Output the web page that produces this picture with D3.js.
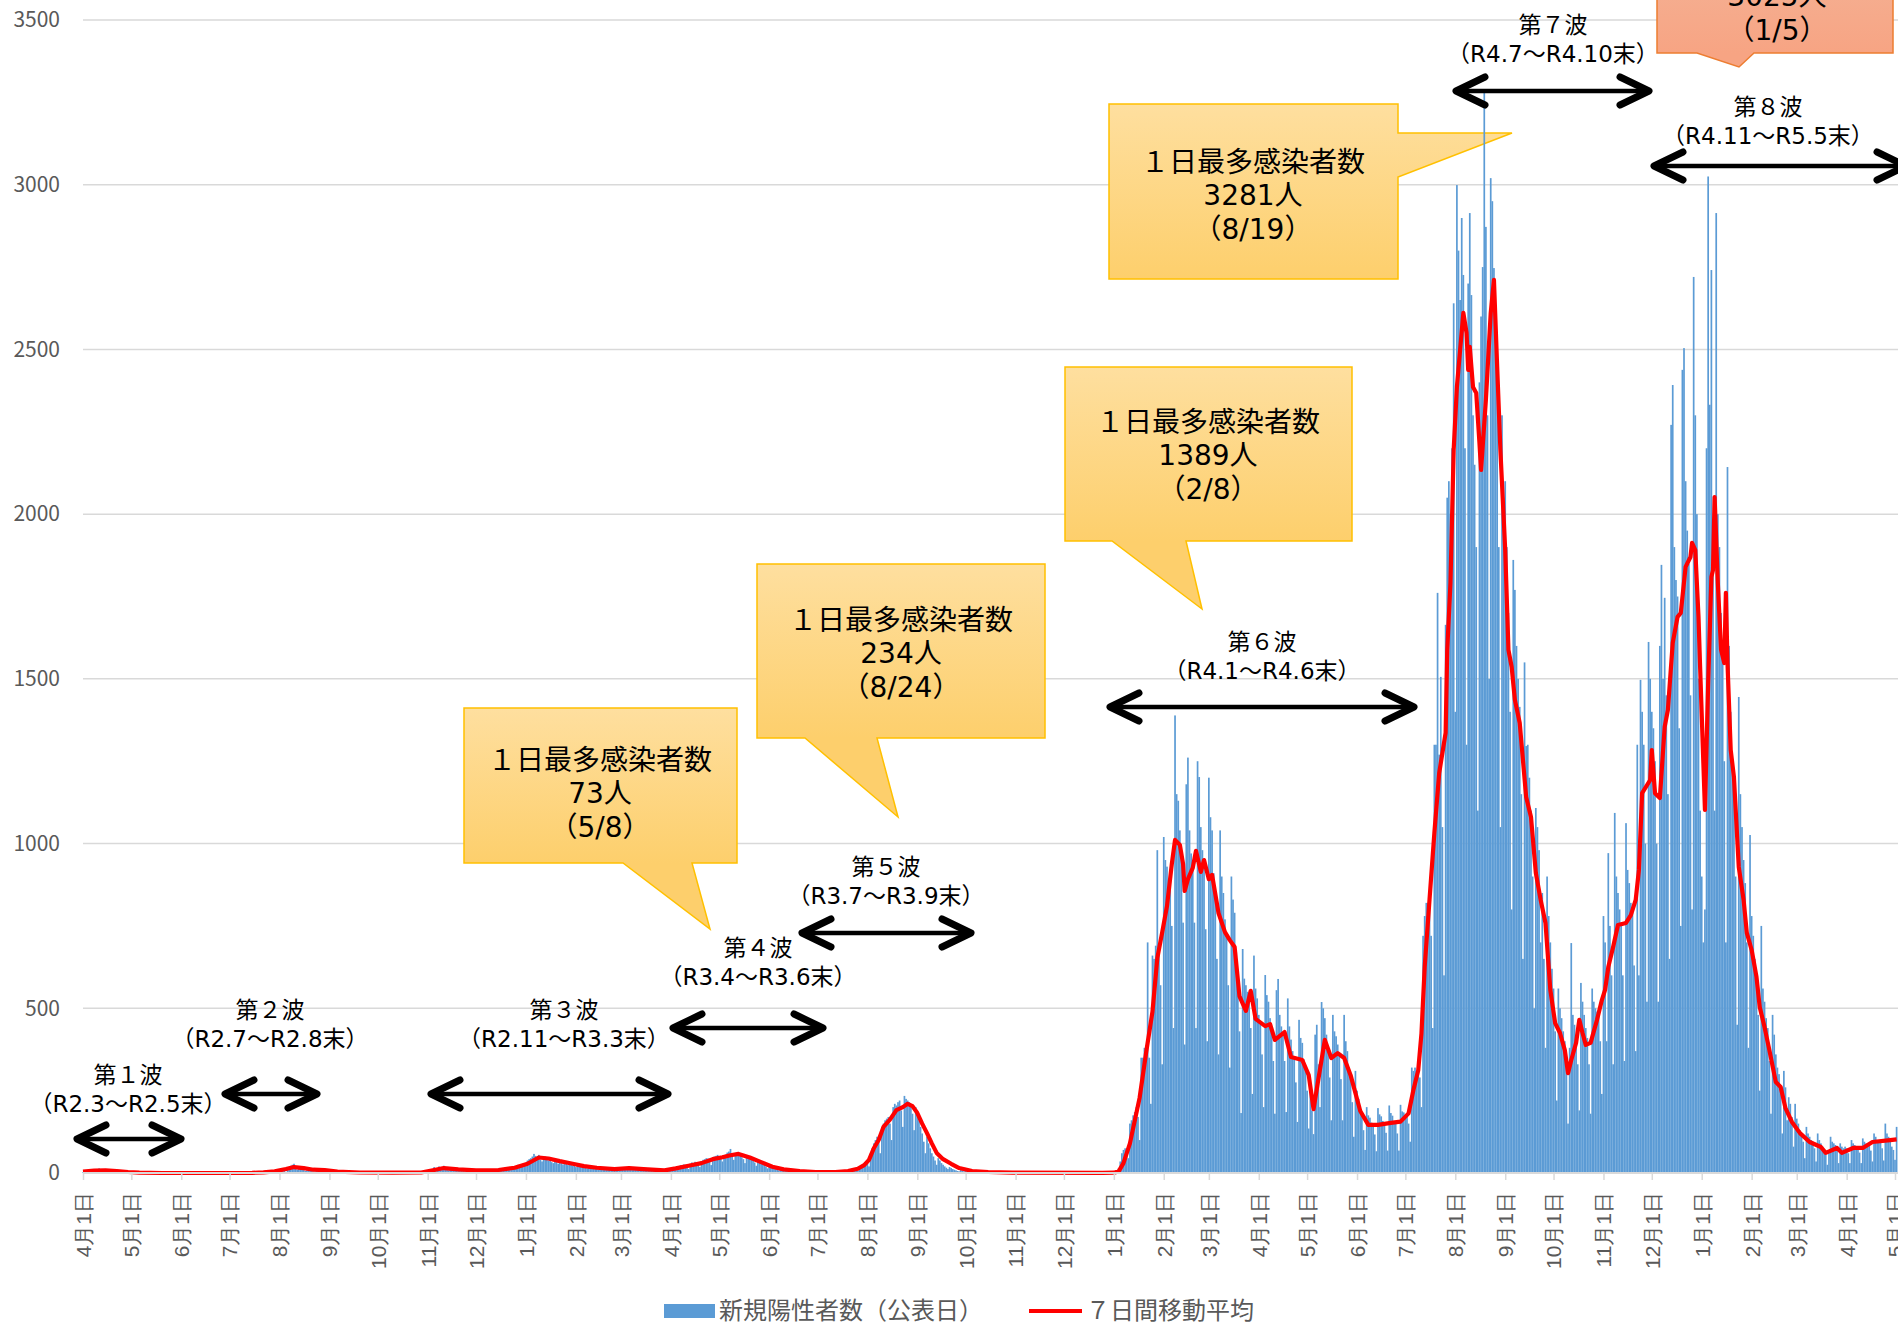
<!DOCTYPE html>
<html lang="ja">
<head>
<meta charset="utf-8">
<script src="https://cdn.jsdelivr.net/npm/d3@7"></script>
<style>
  html, body { margin: 0; padding: 0; background: #fff; }
  svg { display: block; font-family: "Noto Sans CJK JP", "Noto Sans", sans-serif; }
  .grid line { stroke: #d9d9d9; stroke-width: 1.5; }
  .axis text { fill: #595959; font-size: 21px; }
  .axis line { stroke: #d9d9d9; stroke-width: 1.5; }
  .wave text { fill: #000; font-size: 23px; font-family: "DejaVu Sans", "Noto Sans CJK JP", sans-serif; }
  .callout text { fill: #000; font-size: 28px; font-family: "DejaVu Sans", "Noto Sans CJK JP", sans-serif; }
  .legend text { fill: #595959; font-size: 24px; }
</style>
</head>
<body>
<svg width="1898" height="1325"></svg>
<script>
// daily new cases (公表日), one list per month, fiscal years starting in April
var fy2020 = [
  [2,5,3,8,4,1,9,12,6,10, 14,7,3,2,11,8,6,4,9,3, 1,5,4,2,3,1,0,2,1,0],
  [1,0,0,1,0,0,0,1,0,0, 0,0,0,0,0,0,0,0,0,0, 0,0,0,0,0,0,0,0,0,0, 0],
  [0,0,0,0,0,0,0,0,0,0, 0,0,0,0,0,1,0,0,0,0, 0,0,0,0,1,0,0,0,0,0],
  [0,0,1,0,0,0,1,0,0,0, 1,0,0,0,1,0,2,0,1,3, 1,2,4,6,3,2,5,8,4,10, 7],
  [6,9,12,8,3,14,18,22,25,28, 15,10,20,16,12,9,6,8,12,10, 7,5,4,9,8,6,11,14,8,5, 4],
  [6,4,3,5,2,1,3,4,2,1, 2,0,1,2,1,3,0,1,2,0, 1,0,2,1,0,1,0,0,1,0],
  [1,0,2,0,1,3,0,1,2,0, 0,1,2,1,0,3,1,0,2,1, 0,1,2,0,3,1,0,2,4,1, 3],
  [2,5,8,12,18,10,15,20,9,14, 22,16,11,8,13,10,7,12,9,6, 8,11,7,5,9,6,10,8,7,12],
  [9,11,8,6,10,7,5,9,12,8, 6,11,9,7,13,10,8,12,15,11, 9,14,18,16,12,20,25,18,22,28, 24],
  [30,38,42,45,50,58,52,48,55,40, 35,44,50,42,38,45,33,30,36,40, 28,35,30,26,32,28,24,30,26,22, 28],
  [18,25,22,20,24,19,16,14,20,22, 18,15,17,14,10,16,18,15,12,14, 11,9,15,13,10,12,9,8],
  [14,18,16,12,15,17,11,9,14,16, 12,10,13,9,8,11,12,10,9,8, 6,10,12,9,8,10,7,5,8,10, 9]
];
var fy2021 = [
  [12,15,18,14,9,20,24,22,26,25, 21,12,28,32,30,34,31,28,18,36, 40,42,45,44,38,24,48,50,52,55],
  [50,46,35,54,56,62,65,73,52,40, 60,62,58,55,48,42,30,50,48,45, 40,38,32,22,36,34,30,28,26,20, 14],
  [25,22,20,18,16,12,8,16,14,12, 10,9,7,5,10,8,9,7,6,4, 3,6,5,4,3,2,1,4,3,2],
  [3,2,4,1,0,3,2,4,3,5, 2,1,4,6,5,3,7,4,2,8, 10,12,9,14,11,6,18,22,25,30, 28],
  [35,20,60,75,90,100,110,95,60,140, 150,160,165,170,150,100,200,210,205,215, 220,190,140,234,225,220,215,205,180,130, 200],
  [175,160,140,120,95,60,110,90,75,60, 50,38,25,45,38,30,25,20,16,12, 18,15,12,10,8,6,5,9,7,5],
  [6,5,3,2,6,5,4,3,4,2, 1,3,2,3,1,2,1,0,2,1, 2,1,0,1,1,0,0,2,1,0, 1],
  [0,1,0,0,1,0,0,0,1,0, 0,0,1,0,0,0,0,1,0,0, 0,0,0,1,0,0,0,0,1,0],
  [0,0,1,0,0,0,0,1,0,0, 0,0,0,1,0,0,0,0,1,0, 0,0,1,0,0,1,0,2,1,0, 3],
  [2,1,2,15,35,60,70,75,65,45, 150,160,175,185,200,170,100,350,350,380, 380,700,350,210,660,650,690,980,690,570, 330],
  [1020,950,930,890,900,750,440,1389,1150,1130, 1040,960,760,390,1180,1261,1040,970,930,760, 440,1250,1202,1050,980,950,740,400],
  [1200,1080,1040,910,840,650,360,1040,900,850, 770,720,570,320,900,830,790,670,590,430, 182,680,590,570,550,540,440,240,660,560, 530]
];
var fy2022 = [
  [480,450,360,200,601,540,520,470,440,340, 180,555,589,480,445,428,340,185,530,445, 405,370,348,275,155,465,410,395,345,315],
  [250,135,250,190,118,420,450,330,200,519, 500,470,420,380,290,160,480,430,415,390, 360,285,160,480,400,370,320,297,215,110, 310],
  [250,225,195,175,130,70,200,175,168,153, 146,117,66,197,178,172,158,152,122,68, 205,182,174,158,150,120,68,207,187,184],
  [175,180,150,95,320,310,320,310,312,290, 200,720,780,820,820,830,720,440,1300,1300, 1761,1270,1506,1050,600,1664,2050,2100,2000,2200, 2640],
  [1400,2999,2800,2650,2899,2726,2200,1300,2700,2914, 2665,2300,2150,1900,1100,2400,2600,2750,3281,2872, 2300,1500,3020,2950,2747,2550,2400,1900,1050,2300, 2050],
  [2100,1900,1700,1400,800,1861,1770,1600,1500,1415, 1150,650,1550,1296,1300,1200,1100,900,500,1108, 1050,980,700,850,650,380,900,780,700,620],
  [560,430,220,560,500,470,430,400,320,150, 380,698,480,450,420,330,190,577,520,480, 440,410,330,180,560,520,500,490,480,400, 240],
  [780,700,400,971,750,600,330,1093,900,850, 800,760,600,340,1062,920,880,820,790,630, 370,1300,600,1497,1400,1300,1000,520,1612,1500],
  [1400,1350,1250,1000,520,1600,1846,1500,1746,1450, 1150,650,2271,2392,1900,1800,1750,1350,750,2438, 2504,2100,1950,1850,1450,800,2720,2300,2000,1500, 1100],
  [900,700,800,2200,3025,2332,2741,1900,1100,2914, 2000,1900,1700,1600,1250,700,2143,1600,1400,1250, 1150,900,450,1445,1150,1050,950,880,700,380, 1026],
  [780,720,650,600,480,250,750,560,520,470, 440,340,180,480,420,360,320,300,240,120, 310,260,160,230,210,170,80,210],
  [165,150,130,120,95,45,140,120,110,100, 95,75,35,120,100,90,80,70,55,25, 60,110,95,90,85,70,30,90,80,75, 80]
];
var fy2023 = [
  [75,60,30,100,90,85,80,78,62,30, 105,95,90,88,85,68,35,120,110,100, 95,92,75,38,150,120,110,100,80,70],
  [40,140]
];

// 7日間移動平均
var avg7 = [
  ['2020-04-01',4],['2020-04-08',7],['2020-04-15',8],['2020-04-22',6],['2020-04-29',3],['2020-05-06',1],
  ['2020-05-20',0],['2020-07-01',0],['2020-07-15',0.5],['2020-07-22',2],['2020-07-29',5],['2020-08-05',12],
  ['2020-08-10',18],['2020-08-16',15],['2020-08-22',10],['2020-08-29',9],['2020-09-06',4],['2020-09-20',1.5],
  ['2020-10-10',1],['2020-10-28',1.5],['2020-11-05',9],['2020-11-11',15],['2020-11-20',11],['2020-12-01',8],
  ['2020-12-15',9],['2020-12-25',16],['2021-01-02',28],['2021-01-09',47],['2021-01-15',44],['2021-01-22',36],
  ['2021-01-30',28],['2021-02-06',21],['2021-02-14',16],['2021-02-25',12],['2021-03-06',15],['2021-03-15',12],
  ['2021-03-28',8],['2021-04-04',14],['2021-04-12',22],['2021-04-20',30],['2021-04-27',42],['2021-05-03',48],
  ['2021-05-08',54],['2021-05-13',58],['2021-05-20',47],['2021-05-27',33],['2021-06-03',19],['2021-06-10',11],
  ['2021-06-20',6],['2021-06-30',3],['2021-07-12',3],['2021-07-20',6],['2021-07-26',13],['2021-07-30',24],
  ['2021-08-02',40],['2021-08-05',75],['2021-08-08',100],['2021-08-11',140],['2021-08-15',162],['2021-08-19',191],
  ['2021-08-23',200],['2021-08-26',210],['2021-08-29',203],['2021-09-01',182],['2021-09-04',150],['2021-09-07',121],
  ['2021-09-10',90],['2021-09-13',61],['2021-09-17',42],['2021-09-22',28],['2021-09-27',15],['2021-10-05',6],
  ['2021-10-15',3],['2021-10-30',1],['2021-12-25',0.5],['2022-01-01',1],['2022-01-04',5],['2022-01-07',30],
  ['2022-01-11',90],['2022-01-17',228],['2022-01-21',364],['2022-01-25',490],['2022-01-28',652],['2022-01-31',730],
  ['2022-02-03',810],['2022-02-06',938],['2022-02-08',1011],['2022-02-11',996],['2022-02-13',938],['2022-02-14',856],
  ['2022-02-16',892],['2022-02-19',926],['2022-02-21',978],['2022-02-24',914],['2022-02-26',950],['2022-03-01',892],
  ['2022-03-03',905],['2022-03-07',789],['2022-03-11',731],['2022-03-14',707],['2022-03-17',686],['2022-03-20',537],
  ['2022-03-24',492],['2022-03-27',553],['2022-03-30',468],['2022-04-05',446],['2022-04-08',452],['2022-04-11',404],
  ['2022-04-17',428],['2022-04-21',352],['2022-04-28',343],['2022-05-02',297],['2022-05-05',194],['2022-05-08',285],
  ['2022-05-12',404],['2022-05-16',349],['2022-05-20',364],['2022-05-24',349],['2022-05-28',297],['2022-06-03',188],
  ['2022-06-08',146],['2022-06-14',146],['2022-06-22',152],['2022-06-28',156],['2022-07-03',181],['2022-07-06',252],
  ['2022-07-09',312],['2022-07-11',424],['2022-07-13',625],['2022-07-16',830],['2022-07-19',1032],['2022-07-22',1214],
  ['2022-07-26',1336],['2022-07-27',1588],['2022-07-29',1791],['2022-07-31',2195],['2022-08-02',2386],['2022-08-06',2611],
  ['2022-08-08',2550],['2022-08-09',2438],['2022-08-10',2508],['2022-08-12',2386],['2022-08-14',2368],['2022-08-16',2216],
  ['2022-08-17',2134],['2022-08-20',2347],['2022-08-23',2611],['2022-08-25',2711],['2022-08-27',2447],['2022-08-29',2195],
  ['2022-09-01',1891],['2022-09-03',1588],['2022-09-05',1536],['2022-09-07',1436],['2022-09-10',1366],['2022-09-14',1141],
  ['2022-09-17',1081],['2022-09-20',911],['2022-09-23',829],['2022-09-26',759],['2022-09-29',556],['2022-10-02',455],
  ['2022-10-05',425],['2022-10-08',373],['2022-10-10',303],['2022-10-12',343],['2022-10-15',395],['2022-10-17',465],
  ['2022-10-19',425],['2022-10-21',389],['2022-10-24',395],['2022-10-28',465],['2022-10-31',525],['2022-11-02',556],
  ['2022-11-04',625],['2022-11-07',686],['2022-11-10',753],['2022-11-15',759],['2022-11-18',783],['2022-11-21',829],
  ['2022-11-23',920],['2022-11-25',1153],['2022-11-30',1193],['2022-12-01',1284],['2022-12-03',1153],['2022-12-06',1138],
  ['2022-12-09',1354],['2022-12-11',1406],['2022-12-14',1609],['2022-12-17',1688],['2022-12-19',1700],['2022-12-22',1840],
  ['2022-12-25',1870],['2022-12-26',1913],['2022-12-28',1891],['2022-12-30',1688],['2022-12-31',1536],['2023-01-03',1102],
  ['2023-01-05',1487],['2023-01-07',1809],['2023-01-08',1830],['2023-01-09',2052],['2023-01-11',1791],['2023-01-13',1588],
  ['2023-01-15',1548],['2023-01-16',1761],['2023-01-17',1548],['2023-01-19',1284],['2023-01-21',1202],['2023-01-24',929],
  ['2023-01-27',829],['2023-01-29',729],['2023-02-01',677],['2023-02-04',595],['2023-02-06',504],['2023-02-09',443],
  ['2023-02-12',373],['2023-02-16',276],['2023-02-19',261],['2023-02-22',197],['2023-02-26',155],['2023-03-03',121],
  ['2023-03-09',94],['2023-03-16',79],['2023-03-19',61],['2023-03-26',76],['2023-03-29',61],['2023-04-05',76],
  ['2023-04-11',76],['2023-04-17',94],['2023-04-28',100],['2023-05-02',102]
];

var yTicks = [0, 500, 1000, 1500, 2000, 2500, 3000, 3500];
var axisStart = '2020-04-01', axisEnd = '2023-05-01';
var legendLabels = ['新規陽性者数（公表日）', '７日間移動平均'];

var waveNames = ['第１波', '第２波', '第３波', '第４波', '第５波', '第６波', '第７波', '第８波'];
var wavePeriods = ['（R2.3～R2.5末）', '（R2.7～R2.8末）', '（R2.11～R3.3末）', '（R3.4～R3.6末）',
                   '（R3.7～R3.9末）', '（R4.1～R4.6末）', '（R4.7～R4.10末）', '（R4.11～R5.5末）'];
var peakTexts = [
  ['１日最多感染者数', '73人', '（5/8）'],
  ['１日最多感染者数', '234人', '（8/24）'],
  ['１日最多感染者数', '1389人', '（2/8）'],
  ['１日最多感染者数', '3281人', '（8/19）'],
  ['１日最多感染者数', '3025人', '（1/5）']
];

//flatten the month lists into one row per day
var daily = [];
[[2020, fy2020], [2021, fy2021], [2022, fy2022], [2023, fy2023]].forEach(function(fy) {
  fy[1].forEach(function(month, mi) {
    month.forEach(function(v, di) {
      daily.push({ date: new Date(fy[0], 3 + mi, di + 1), value: v });
    });
  });
});

var svg = d3.select('svg'),
    width = +svg.attr('width'),
    plot = { left: 83, right: 1895, top: 20, bottom: 1173 },
    parse = d3.timeParse('%Y-%m-%d'),
    x = d3.scaleTime()
          .domain([parse(axisStart), parse(axisEnd)])
          .range([plot.left, plot.right]),
    y = d3.scaleLinear()
          .domain([0, 3500])
          .range([plot.bottom, plot.top]);

var defs = svg.append('defs');

//horizontal gridlines
svg.append('g')
    .attr('class', 'grid')
  .selectAll('line')
  .data(yTicks.filter(function(d) { return d > 0; }))
  .enter().append('line')
    .attr('x1', plot.left)
    .attr('x2', width)
    .attr('y1', function(d) { return y(d); })
    .attr('y2', function(d) { return y(d); });

//y labels
svg.append('g')
    .attr('class', 'axis')
  .selectAll('text')
  .data(yTicks)
  .enter().append('text')
    .attr('x', 60)
    .attr('y', function(d) { return y(d); })
    .attr('dy', '0.35em')
    .attr('text-anchor', 'end')
    .text(function(d) { return d; });

//callout boxes (drawn under the bars, like the chart)
var callouts = [
  { box: [464, 708, 737, 863], tail: 'bottom', t: [623, 692, 710, 929], tx: 600, ty: 760, fill: ['#fedf9f', '#fdcf6c'], stroke: '#ffc000' },
  { box: [757, 564, 1045, 738], tail: 'bottom', t: [805, 877, 898, 817], tx: 901, ty: 620, fill: ['#fedf9f', '#fdcf6c'], stroke: '#ffc000' },
  { box: [1065, 367, 1352, 541], tail: 'bottom', t: [1112, 1186, 1202, 609], tx: 1208, ty: 422, fill: ['#fedf9f', '#fdcf6c'], stroke: '#ffc000' },
  { box: [1109, 104, 1398, 279], tail: 'right', t: [133, 177, 1512, 133], tx: 1253, ty: 162, fill: ['#fedf9f', '#fdcf6c'], stroke: '#ffc000' },
  { box: [1657, -80, 1893, 53], tail: 'bottom', t: [1697, 1754, 1739, 67], tx: 1777, ty: -37, fill: ['#f3b89e', '#f7a483'], stroke: '#ed7d31' }
];

function calloutPath(c) {
  var b = c.box, t = c.t;
  if (c.tail === 'bottom') {
    return 'M' + b[0] + ',' + b[1] + 'H' + b[2] + 'V' + b[3] + 'H' + t[1] +
           'L' + t[2] + ',' + t[3] + 'L' + t[0] + ',' + b[3] + 'H' + b[0] + 'Z';
  }
  return 'M' + b[0] + ',' + b[1] + 'H' + b[2] + 'V' + t[0] + 'L' + t[2] + ',' + t[3] +
         'L' + b[2] + ',' + t[1] + 'V' + b[3] + 'H' + b[0] + 'Z';
}

var cg = svg.append('g').attr('class', 'callout');
callouts.forEach(function(c, i) {
  var grad = defs.append('linearGradient')
      .attr('id', 'cg' + i)
      .attr('gradientUnits', 'userSpaceOnUse')
      .attr('x1', 0).attr('x2', 0)
      .attr('y1', c.box[1]).attr('y2', c.box[3]);
  grad.append('stop').attr('offset', '0%').attr('stop-color', c.fill[0]);
  grad.append('stop').attr('offset', '100%').attr('stop-color', c.fill[1]);
  cg.append('path')
      .attr('d', calloutPath(c))
      .attr('fill', 'url(#cg' + i + ')')
      .attr('stroke', c.stroke)
      .attr('stroke-width', 1.5);
});

//daily bars
var barW = 1.7;
svg.append('g')
  .selectAll('.bar')
  .data(daily)
  .enter().append('rect')
    .attr('class', 'bar')
    .attr('x', function(d) { return x(d.date) - barW / 2; })
    .attr('width', barW)
    .attr('y', function(d) { return y(d.value); })
    .attr('height', function(d) { return y(0) - y(d.value); })
    .attr('fill', '#5b9bd5');

//7 day average
var line = d3.line()
    .x(function(d) { return x(parse(d[0])); })
    .y(function(d) { return y(d[1]); });
svg.append('path')
    .datum(avg7)
    .attr('d', line)
    .attr('fill', 'none')
    .attr('stroke', '#ff0000')
    .attr('stroke-width', 4.2)
    .attr('stroke-linejoin', 'round');

//x axis
svg.append('line')
    .attr('x1', plot.left).attr('x2', width)
    .attr('y1', plot.bottom).attr('y2', plot.bottom)
    .attr('stroke', '#d9d9d9')
    .attr('stroke-width', 2);

var monthTicks = d3.timeMonth.range(parse(axisStart), d3.timeDay.offset(parse(axisEnd), 1));
svg.append('g')
    .attr('class', 'axis')
    .attr('transform', 'translate(0,' + plot.bottom + ')')
    .call(d3.axisBottom(x)
      .tickValues(monthTicks)
      .tickFormat(d3.timeFormat('%-m月%-d日'))
      .tickSize(7)
      .tickSizeOuter(0))
    .call(function(g) { g.select('.domain').remove(); })
  .selectAll('text')
    .attr('transform', 'rotate(-90)')
    .attr('text-anchor', 'end')
    .attr('x', -19)
    .attr('y', 0)
    .attr('dy', '0.35em');
svg.selectAll('.axis .tick text').style('font-size', '21px').attr('fill', '#595959');

//callout texts
callouts.forEach(function(c, i) {
  var t = cg.append('text').attr('text-anchor', 'middle');
  peakTexts[i].forEach(function(s, k) {
    t.append('tspan')
      .attr('x', c.tx)
      .attr('y', c.ty + k * 33.5)
      .attr('dy', '0.35em')
      .text(s);
  });
});

//wave arrows and labels
var waveLayout = [
  { tx: 128, ty: 1075, a: [77, 181, 1139] },
  { tx: 270, ty: 1010, a: [225, 317, 1094] },
  { tx: 564, ty: 1010, a: [431, 668, 1094] },
  { tx: 758, ty: 948, a: [673, 823, 1028] },
  { tx: 886, ty: 867, a: [802, 971, 933] },
  { tx: 1262, ty: 642, a: [1110, 1414, 707] },
  { tx: 1553, ty: 25, a: [1456, 1649, 91] },
  { tx: 1768, ty: 107, a: [1654, 1906, 166] }
];

var wg = svg.append('g').attr('class', 'wave');
waveLayout.forEach(function(w, i) {
  var a = w.a, hx = 29, hy = 14;
  wg.append('line')
      .attr('x1', a[0] + 3).attr('x2', a[1] - 3)
      .attr('y1', a[2]).attr('y2', a[2])
      .attr('stroke', '#000')
      .attr('stroke-width', 4.5);
  wg.append('path')
      .attr('d', 'M' + (a[0] + hx) + ',' + (a[2] - hy) + 'L' + a[0] + ',' + a[2] + 'L' + (a[0] + hx) + ',' + (a[2] + hy) +
                 'M' + (a[1] - hx) + ',' + (a[2] - hy) + 'L' + a[1] + ',' + a[2] + 'L' + (a[1] - hx) + ',' + (a[2] + hy))
      .attr('fill', 'none')
      .attr('stroke', '#000')
      .attr('stroke-width', 7)
      .attr('stroke-linecap', 'round')
      .attr('stroke-linejoin', 'round');
  var t = wg.append('text').attr('text-anchor', 'middle');
  [waveNames[i], wavePeriods[i]].forEach(function(s, k) {
    t.append('tspan')
      .attr('x', w.tx)
      .attr('y', w.ty + k * 29)
      .attr('dy', '0.35em')
      .text(s);
  });
});

//legend
var lg = svg.append('g').attr('class', 'legend');
lg.append('rect')
    .attr('x', 664).attr('y', 1304)
    .attr('width', 51).attr('height', 14)
    .attr('fill', '#5b9bd5');
lg.append('text')
    .attr('x', 719).attr('y', 1311).attr('dy', '0.35em')
    .text(legendLabels[0]);
lg.append('line')
    .attr('x1', 1029).attr('x2', 1082)
    .attr('y1', 1311).attr('y2', 1311)
    .attr('stroke', '#ff0000')
    .attr('stroke-width', 4);
lg.append('text')
    .attr('x', 1086).attr('y', 1311).attr('dy', '0.35em')
    .text(legendLabels[1]);
</script>
</body>
</html>
